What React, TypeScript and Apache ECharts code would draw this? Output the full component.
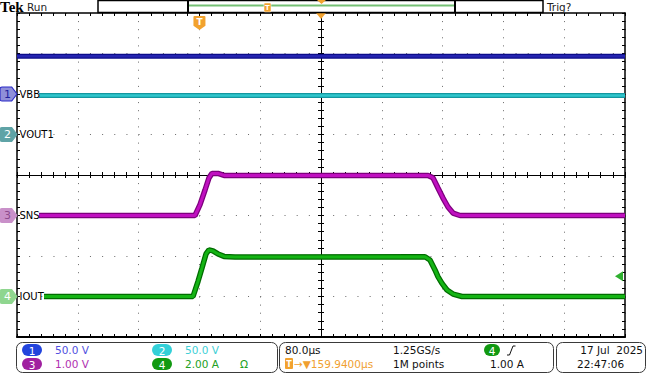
import React, { useEffect, useRef } from "react";
import * as echarts from "echarts";

// ---- scope settings ----
const timePerDiv = 80; // µs / div
const xMin = -400; // µs relative to screen centre
const xMax = 400;
const yMin = -4; // divisions
const yMax = 4;

const chScale = [50, 50, 1, 2]; // units per division
const chOffset = [2, 1, -1, -3]; // ground marker position (div)
const chLabel = ["VBB", "VOUT1", "SNS", "IOUT"];
const chNumber = ["1", "2", "3", "4"];
const chUnitText = ["50.0 V", "50.0 V", "1.00 V", "2.00 A"];

// ---- waveforms (time µs, value in channel units) ----
const ch1Time = [-400, 400];
const ch1Val = [46.5, 46.5];
const ch2Time = [-371, 400];
const ch2Val = [48, 48];
const ch3Time = [-371, -165.8, -159.2, -152.6, -147.4, -143.4, -135.5, -127.6, 140.8, 147.4, 153.9, 160.5, 167.1, 173.7, 182.9, 400];
const ch3Val = [0, 0, 0.27, 0.63, 0.93, 1.04, 1.04, 0.99, 0.99, 0.93, 0.68, 0.43, 0.21, 0.06, 0, 0];
const ch4Time = [-364.5, -168.4, -161.8, -156.6, -151.3, -147.4, -142.1, -135.5, -127.6, -113.2, 136.8, 143.4, 150.0, 153.9, 159.2, 165.8, 173.7, 185.5, 400];
const ch4Val = [0, 0, 0.75, 1.41, 2.1, 2.3, 2.25, 2.1, 1.98, 1.95, 1.96, 1.8, 1.31, 0.98, 0.65, 0.32, 0.12, 0, 0];

const triggerTime = -159.94; // µs
const triggerLevel = 1.0; // A on ch4

const FONT = "DejaVu Sans";

const toDiv = (times: number[], vals: number[], ch: number) =>
  times.map((t, i) => [t, vals[i] / chScale[ch] + chOffset[ch]]);

const badgePath = "path://M2,0 L11,0 L16,7 L11,14 L2,14 Q0,14 0,12 L0,2 Q0,0 2,0 Z";
const trigPath = "path://M1,0 L11,0 Q12,0 12,1 L12,9 L6,13 L0,9 L0,1 Q0,0 1,0 Z";

const badgeStyle = [
  { fill: "#8f8fd9", border: "#2a2ac8", text: "#1f1f9e" },
  { fill: "#5fa3a6", border: "#5fa3a6", text: "#ffffff" },
  { fill: "#c990c9", border: "#c990c9", text: "#8d4a8d" },
  { fill: "#8fd68f", border: "#8fd68f", text: "#ffffff" },
];
const traceBase = ["#0c0c8a", "#1497a0", "#7d007d", "#006c00"];
const traceTop = ["#2424b0", "#2fc6cc", "#c010c0", "#14b414"];
const footColor = ["#5050e0", "#40cfd6", "#b030b0", "#22a022"];
const pillColor = ["#2244dd", "#33d0d8", "#a020a0", "#119911"];
const traceTimes = [ch1Time, ch2Time, ch3Time, ch4Time];
const traceVals = [ch1Val, ch2Val, ch3Val, ch4Val];

export default function App() {
  const ref = useRef<HTMLDivElement>(null);
  useEffect(() => {
    if (!ref.current) return;
    const chart = echarts.init(ref.current, undefined, { renderer: "svg" });

    const commonX = {
      type: "value" as const,
      min: xMin,
      max: xMax,
      axisLabel: { show: false },
      splitLine: { show: false },
    };
    const commonY = {
      type: "value" as const,
      min: yMin,
      max: yMax,
      axisLabel: { show: false },
      splitLine: { show: false },
    };
    const minorX = timePerDiv / 5;
    const tick = { inside: true, length: 3, lineStyle: { color: "#000", width: 1 } };

    const series: any[] = [];
    for (let c = 0; c < 4; c++) {
      const data = toDiv(traceTimes[c], traceVals[c], c);
      series.push({
        type: "line",
        data,
        symbol: "none",
        lineStyle: { color: traceBase[c], width: c >= 2 ? 5.5 : 5 },
        z: 3,
        silent: true,
      });
      const mpData: any[] = [];
      mpData.push({
        coord: [xMin, chOffset[c]],
        symbol: badgePath,
        symbolSize: [17, 14],
        symbolOffset: [-8.5, 0],
        itemStyle: { color: badgeStyle[c].fill, borderColor: badgeStyle[c].border, borderWidth: 1 },
        label: {
          show: true,
          position: "inside",
          offset: [-1, 0],
          formatter: chNumber[c],
          color: badgeStyle[c].text,
          fontSize: 11,
          fontFamily: FONT,
        },
      });
      mpData.push({
        coord: [xMin, chOffset[c]],
        symbol: "rect",
        symbolSize: 1,
        itemStyle: { color: "rgba(0,0,0,0)" },
        label: {
          show: true,
          position: "right",
          distance: 2,
          formatter: chLabel[c],
          color: "#000",
          fontSize: 10,
          fontFamily: FONT,
        },
      });
      if (c === 3) {
        mpData.push({
          coord: [xMax, triggerLevel / chScale[3] + chOffset[3]],
          symbol: "triangle",
          symbolRotate: 90,
          symbolSize: [10, 8],
          symbolOffset: [-6, 0],
          itemStyle: { color: "#2fb02f" },
          label: { show: false },
        });
        mpData.push({
          coord: [triggerTime, yMax],
          symbol: trigPath,
          symbolSize: [12, 14],
          symbolOffset: [0, 10],
          itemStyle: { color: "#f2a22e" },
          label: {
            show: true,
            position: "inside",
            offset: [0, -1],
            formatter: "T",
            color: "#fff",
            fontSize: 9,
            fontWeight: "bold",
            fontFamily: FONT,
          },
        });
        mpData.push({
          coord: [0, yMax],
          symbol: "triangle",
          symbolRotate: 180,
          symbolSize: [10, 6],
          symbolOffset: [0, 3],
          itemStyle: { color: "#f2a22e" },
          label: { show: false },
        });
      }
      series.push({
        type: "line",
        data,
        symbol: "none",
        lineStyle: { color: traceTop[c], width: c >= 2 ? 3 : 2.5 },
        z: 4,
        silent: true,
        markPoint: { silent: true, animation: false, data: mpData },
      });
    }

    const t = (x: number, y: number, text: string, fill: string, extra: any = {}) => ({
      type: "text",
      x,
      y,
      style: {
        text,
        fill,
        font: extra.font || `10.5px '${FONT}'`,
        textAlign: extra.align || "left",
        textVerticalAlign: "middle",
        verticalAlign: "middle",
      },
      z: 12,
    });
    const pillRect = (x: number, y: number, w: number, h: number, color: string) => ({
      type: "rect",
      shape: { x, y, width: w, height: h, r: h / 2 },
      style: { fill: color },
      z: 11,
    });
    const pill = (x: number, y: number, w: number, h: number, color: string, label: string) => [
      pillRect(x, y, w, h, color),
      t(x + w / 2, y + h / 2 + 0.5, label, "#fff", { align: "center", font: `10.5px '${FONT}'` }),
    ];
    const box = (x: number, y: number, w: number, h: number) => ({
      type: "rect",
      shape: { x, y, width: w, height: h, r: 6 },
      style: { fill: "none", stroke: "#3a3a3a", lineWidth: 1 },
      z: 9,
    });

    const graphic: any[] = [
      // header
      t(0, 7, "Tek", "#000", { font: "bold 15px 'Liberation Serif'" }),
      t(27, 7, "Run", "#222", { font: `10.5px '${FONT}'` }),
      { type: "rect", shape: { x: 98, y: 0.5, width: 445, height: 12 }, style: { fill: "#fff", stroke: "#000", lineWidth: 1.5 }, z: 9 },
      { type: "line", shape: { x1: 188, y1: 5.5, x2: 455, y2: 5.5 }, style: { stroke: "#74c074", lineWidth: 2 }, z: 10 },
      { type: "line", shape: { x1: 188, y1: 0, x2: 188, y2: 12.5 }, style: { stroke: "#000", lineWidth: 2 }, z: 10 },
      { type: "line", shape: { x1: 455, y1: 0, x2: 455, y2: 12.5 }, style: { stroke: "#000", lineWidth: 2 }, z: 10 },
      { type: "rect", shape: { x: 264, y: 3, width: 7, height: 9, r: 1 }, style: { fill: "#f2a22e", stroke: "#fff", lineWidth: 0.5 }, z: 11 },
      t(267.5, 7.5, "T", "#fff", { align: "center", font: `bold 7px '${FONT}'` }),
      { type: "polygon", shape: { points: [[317, 0], [326, 0], [321.5, 4]] }, style: { fill: "#f2a22e" }, z: 11 },
      t(547, 7, "Trig?", "#222", { font: `10.5px '${FONT}'` }),
      // footer boxes
      box(16.5, 342.5, 261, 30),
      box(279.5, 342.5, 274, 30),
      box(556.5, 342.5, 89, 30),
      ...pill(22, 344, 20, 12, pillColor[0], chNumber[0]),
      t(55, 350, chUnitText[0], footColor[0]),
      ...pill(152, 344, 20, 12, pillColor[1], chNumber[1]),
      t(185, 350, chUnitText[1], footColor[1]),
      ...pill(22, 358, 20, 12, pillColor[2], chNumber[2]),
      t(55, 364, chUnitText[2], footColor[2]),
      ...pill(152, 358, 20, 12, pillColor[3], chNumber[3]),
      t(185, 364, chUnitText[3], footColor[3]),
      t(240, 364, "Ω", footColor[3]),
      t(285, 350, "80.0µs", "#111"),
      { type: "rect", shape: { x: 285, y: 358, width: 8, height: 11, r: 1 }, style: { fill: "#f2a22e" }, z: 11 },
      t(289, 364, "T", "#fff", { align: "center", font: `bold 8px '${FONT}'` }),
      t(294, 364, "→▼159.9400µs", "#f0a030"),
      t(393, 350, "1.25GS/s", "#111"),
      t(393, 364, "1M points", "#111"),
      ...pill(484, 344, 16, 12, pillColor[3], "4"),
      { type: "polyline", shape: { points: [[507, 355], [509.5, 355], [513, 346], [515.5, 346]] }, style: { stroke: "#111", lineWidth: 1, fill: "none" }, z: 12 },
      t(490, 364, "1.00 A", "#111"),
      t(643, 350, "17 Jul  2025", "#111", { align: "right" }),
      t(577, 364, "22:47:06", "#111"),
    ];

    chart.setOption({
      animation: false,
      backgroundColor: "#ffffff",
      grid: { left: 17, top: 13, width: 608, height: 324, show: false },
      xAxis: [
        { ...commonX, position: "bottom", interval: minorX, axisLine: { onZero: false, lineStyle: { color: "#000", width: 2 } }, axisTick: tick },
        { ...commonX, position: "top", interval: minorX, axisLine: { onZero: false, lineStyle: { color: "#000", width: 1.5 } }, axisTick: tick },
        { ...commonX, position: "bottom", interval: minorX, axisLine: { onZero: true, onZeroAxisIndex: 0, lineStyle: { color: "#000", width: 1 } }, axisTick: tick },
        { ...commonX, position: "top", interval: minorX, axisLine: { onZero: true, onZeroAxisIndex: 0, lineStyle: { color: "#000", width: 1 } }, axisTick: tick },
        {
          ...commonX,
          position: "bottom",
          interval: timePerDiv,
          axisLine: { show: false, onZero: false },
          axisTick: { show: false },
          splitLine: { show: true, lineStyle: { color: "#6a6a6a", width: 1, type: [1, 7.1] } },
        },
      ],
      yAxis: [
        { ...commonY, position: "left", interval: 0.2, axisLine: { onZero: false, lineStyle: { color: "#000", width: 1.5 } }, axisTick: tick },
        { ...commonY, position: "right", interval: 0.2, axisLine: { onZero: false, lineStyle: { color: "#000", width: 1.5 } }, axisTick: tick },
        { ...commonY, position: "left", interval: 0.2, axisLine: { onZero: true, onZeroAxisIndex: 0, lineStyle: { color: "#000", width: 1 } }, axisTick: tick },
        { ...commonY, position: "right", interval: 0.2, axisLine: { onZero: true, onZeroAxisIndex: 0, lineStyle: { color: "#000", width: 1 } }, axisTick: tick },
        {
          ...commonY,
          position: "left",
          interval: 1,
          axisLine: { show: false, onZero: false },
          axisTick: { show: false },
          splitLine: { show: true, lineStyle: { color: "#6a6a6a", width: 1, type: [1, 11.16] } },
        },
      ],
      series,
      graphic,
    });
    return () => chart.dispose();
  }, []);
  return (
    <div
      ref={ref}
      style={{ position: "fixed", left: 0, top: 0, width: 649, height: 389, background: "#fff" }}
    />
  );
}
